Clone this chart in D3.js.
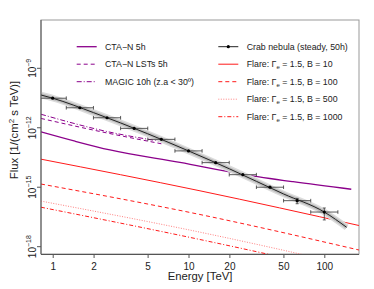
<!DOCTYPE html>
<html><head><meta charset="utf-8">
<script src="https://cdn.jsdelivr.net/npm/d3@7"></script>
<style>body{margin:0;background:#fff;} svg{display:block;font-family:"Liberation Sans",Arial,Helvetica,sans-serif;}</style>
</head><body>
<svg id="c" width="374" height="289"></svg>
<script>
// ---------------- data ----------------
const energyTicks = [1, 2, 5, 10, 20, 50, 100];
const fluxTickExps = [-9, -12, -15, -18];

// Crab nebula points (steady, 50h)
const crabE = [1, 1.585, 2.512, 3.981, 6.31, 10, 15.85, 25.12, 39.81, 63.1, 100];
const crabF = [3.1e-11, 1.02e-11, 3.2e-12, 9.3e-13, 2.6e-13, 6.8e-14, 1.74e-14, 4.3e-15, 1.0e-15, 2.1e-16, 5.6e-17];
const crabFErr = [0.02, 0.02, 0.02, 0.02, 0.03, 0.04, 0.06, 0.09, 0.15, 0.3, 0.6]; // fractional
const crabBinHalfDex = 0.1;
// Crab model line
const crabLineE = [0.82, 1, 2, 5, 10, 20, 50, 100, 146];
const crabLineF = [4.5e-11, 3.1e-11, 5.8e-12, 5.0e-13, 6.8e-14, 8.5e-15, 4.6e-16, 5.6e-17, 9.5e-18];

// CTA-N 5h
const ctaE = [0.82, 1.46, 2.64, 8.65, 25.2, 58.9, 158];
const ctaF = [6.2e-13, 2.1e-13, 7.6e-14, 1.78e-14, 4.5e-15, 1.9e-15, 7.9e-16];
// CTA-N LSTs 5h
const lstE = [0.82, 2.5, 6.5];
const lstF = [2.95e-12, 5.5e-13, 1.5e-13];
// MAGIC 10h
const magicE = [0.82, 2.5, 7.07];
const magicF = [4.8e-12, 6.5e-13, 1.8e-13];

// Flares (Gamma_e = 1.5)
const flareE = [0.82, 12.15, 180];
const flareB10 = [2.6e-14, 6.6e-16, 1.17e-17];
const flareB100 = [1.45e-15, 4.2e-17, 6.8e-19];
const flareB500 = [2.0e-16, 5.4e-18, 9.1e-20];
const flareB1000 = [9.8e-17, 2.3e-18, 4.0e-20];

// ---------------- layout ----------------
const L = 41, R = 359, T = 20, B = 254;
const purple = "#8B008B", red = "#ff1a1a";
const svg = d3.select("#c");
const x = d3.scaleLog().domain([0.82, 180.1]).range([L, R]);
const y = d3.scaleLog().domain([Math.pow(10, -18.369), Math.pow(10, -6.563)]).range([B, T]);

svg.append("defs").append("clipPath").attr("id", "clip")
  .append("rect").attr("x", L).attr("y", T).attr("width", R - L).attr("height", B - T);

// box
svg.append("rect").attr("x", L).attr("y", T).attr("width", R - L).attr("height", B - T)
  .attr("fill", "none").attr("stroke", "#999").attr("stroke-width", 1);

const plot = svg.append("g").attr("clip-path", "url(#clip)");
const line = d3.line().x(d => x(d[0])).y(d => y(d[1])).curve(d3.curveMonotoneX);
function series(E, F) { return E.map((e, i) => [e, F[i]]); }

function drawLine(E, F, color, dash, w) {
  plot.append("path").attr("d", line(series(E, F))).attr("fill", "none")
    .attr("stroke", color).attr("stroke-width", w || 1)
    .attr("stroke-dasharray", dash || null);
}

// flares
drawLine(flareE, flareB10, red, null, 1);
drawLine(flareE, flareB100, red, "4,3", 1);
drawLine(flareE, flareB500, "#ff8080", "1,1.5", 1);
drawLine(flareE, flareB1000, red, "4,2,1,2", 1);

// sensitivities
drawLine(ctaE, ctaF, purple, null, 1.3);
drawLine(lstE, lstF, purple, "4,3", 1);
drawLine(magicE, magicF, purple, "5,2,1,2", 1);

// crab band + line
const crabPts = series(crabLineE, crabLineF);
plot.append("path").attr("d", line(crabPts)).attr("fill", "none").attr("stroke", "#dcdcdc").attr("stroke-width", 6.5);
plot.append("path").attr("d", line(crabPts)).attr("fill", "none").attr("stroke", "#bdbdbd").attr("stroke-width", 3.5);
plot.append("path").attr("d", line(crabPts)).attr("fill", "none").attr("stroke", "#222").attr("stroke-width", 1);

// crab error bars
const eb = plot.append("g").attr("stroke", "#333").attr("stroke-width", 0.8);
crabE.forEach((e, i) => {
  const f = crabF[i];
  const x0 = x(e / Math.pow(10, crabBinHalfDex)), x1 = x(e * Math.pow(10, crabBinHalfDex)), yc = y(f);
  eb.append("line").attr("x1", x0).attr("x2", x1).attr("y1", yc).attr("y2", yc);
  eb.append("line").attr("x1", x0).attr("x2", x0).attr("y1", yc - 1.8).attr("y2", yc + 1.8);
  eb.append("line").attr("x1", x1).attr("x2", x1).attr("y1", yc - 1.8).attr("y2", yc + 1.8);
  const yu = y(f * (1 + crabFErr[i])), yl = y(f * (1 - crabFErr[i]));
  const xc = x(e);
  eb.append("line").attr("x1", xc).attr("x2", xc).attr("y1", yu).attr("y2", yl);
  if (yl - yu > 4) {
    eb.append("line").attr("x1", xc - 1.5).attr("x2", xc + 1.5).attr("y1", yu).attr("y2", yu);
    eb.append("line").attr("x1", xc - 1.5).attr("x2", xc + 1.5).attr("y1", yl).attr("y2", yl);
  }
  plot.append("circle").attr("cx", xc).attr("cy", yc).attr("r", 1.6).attr("fill", "#000");
});

// axes
const xAxis = d3.axisBottom(x).tickValues(energyTicks).tickFormat(d3.format("d")).tickSize(4).tickPadding(2);
const gx = svg.append("g").attr("transform", `translate(0,${B})`).call(xAxis);
gx.select(".domain").attr("stroke", "#555").attr("d", `M${L},0.5H${R}`);
gx.selectAll(".tick line").attr("stroke", "#555");
gx.selectAll(".tick text").attr("font-size", 10).attr("fill", "#222").attr("dy", "0.95em");

const gy = svg.append("g").attr("transform", `translate(${L},0)`);
gy.append("line").attr("x1", 0).attr("x2", 0).attr("y1", T).attr("y2", B).attr("stroke", "#555");
fluxTickExps.forEach(p => {
  const yy = y(Math.pow(10, p));
  gy.append("line").attr("x1", -4).attr("x2", 0).attr("y1", yy).attr("y2", yy).attr("stroke", "#555");
  const t = svg.append("text").attr("transform", `translate(35.5,${yy}) rotate(-90)`)
    .attr("text-anchor", "middle").attr("font-size", 10).attr("fill", "#222");
  t.append("tspan").text("10");
  t.append("tspan").attr("font-size", 7).attr("dy", -4.5).text("\u2212" + Math.abs(p));
});

// axis titles
svg.append("text").attr("x", 200).attr("y", 280).attr("text-anchor", "middle")
  .attr("font-size", 11.3).attr("fill", "#222").text("Energy [TeV]");
const yt = svg.append("text").attr("transform", "translate(18,130) rotate(-90)")
  .attr("text-anchor", "middle").attr("font-size", 11.3).attr("fill", "#222");
yt.append("tspan").text("Flux [1/(cm");
yt.append("tspan").attr("font-size", 8).attr("dy", -4.5).text("2");
yt.append("tspan").attr("dy", 4.5).text(" s TeV)]");

// legend
const legLeft = [
  {label: "CTA\u2212N 5h", color: purple, dash: null, w: 1.3},
  {label: "CTA\u2212N LSTs 5h", color: purple, dash: "4,3", w: 1},
  {label: "MAGIC 10h (z.a < 30\u00ba)", color: purple, dash: "5,2,1,2", w: 1}
];
const legRight = [
  {label: "crab"},
  {B: "10", color: red, dash: null},
  {B: "100", color: red, dash: "4,3"},
  {B: "500", color: "#ff8080", dash: "1,1.5"},
  {B: "1000", color: red, dash: "4,2,1,2"}
];
const rowY = i => 46.7 + i * 17.5;
const fs = 8.8;
legLeft.forEach((d, i) => {
  const yy = rowY(i);
  svg.append("line").attr("x1", 76.7).attr("x2", 96.7).attr("y1", yy).attr("y2", yy)
    .attr("stroke", d.color).attr("stroke-width", d.w).attr("stroke-dasharray", d.dash);
  svg.append("text").attr("x", 105).attr("y", yy + 3.2).attr("font-size", fs).attr("fill", "#222").text(d.label);
});
legRight.forEach((d, i) => {
  const yy = rowY(i);
  if (d.label === "crab") {
    svg.append("line").attr("x1", 218.3).attr("x2", 238.3).attr("y1", yy).attr("y2", yy).attr("stroke", "#222").attr("stroke-width", 1);
    svg.append("circle").attr("cx", 228.3).attr("cy", yy).attr("r", 1.6).attr("fill", "#000");
    svg.append("text").attr("x", 246.7).attr("y", yy + 3.2).attr("font-size", fs).attr("fill", "#222").text("Crab nebula (steady, 50h)");
  } else {
    svg.append("line").attr("x1", 218.3).attr("x2", 238.3).attr("y1", yy).attr("y2", yy)
      .attr("stroke", d.color).attr("stroke-width", 1).attr("stroke-dasharray", d.dash);
    const t = svg.append("text").attr("x", 246.7).attr("y", yy + 3.2).attr("font-size", fs).attr("fill", "#222");
    t.append("tspan").text("Flare: \u0393");
    t.append("tspan").attr("font-size", 6).attr("dy", 2).text("e");
    t.append("tspan").attr("dy", -2).text(" = 1.5, B = " + d.B);
  }
});
</script>
</body></html>
